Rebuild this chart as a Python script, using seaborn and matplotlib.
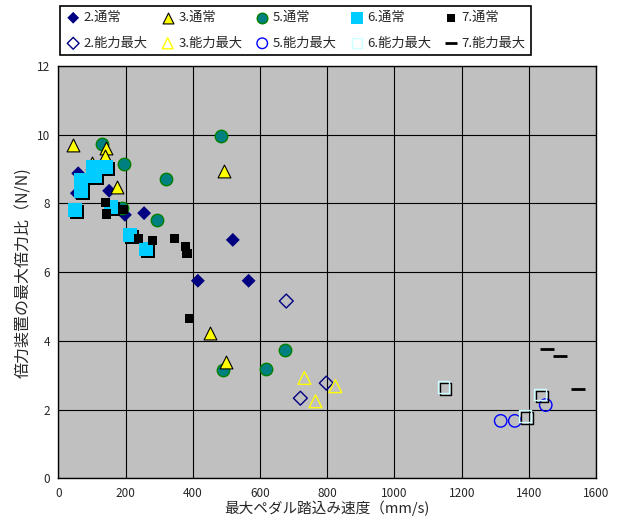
import matplotlib
matplotlib.use("Agg")
import matplotlib.pyplot as plt
import seaborn as sns
from matplotlib.transforms import offset_copy

# データ
x2 = [59, 55, 151, 198, 255, 519, 415, 566]
y2 = [8.88, 8.3, 8.37, 7.67, 7.72, 6.94, 5.75, 5.75]
x2m = [678, 720, 797]
y2m = [5.16, 2.33, 2.77]

x3 = [44, 143, 138, 99, 173, 492, 450, 500]
y3 = [9.71, 9.61, 9.37, 9.17, 8.47, 8.96, 4.23, 3.39]
x3m = [732, 765, 824]
y3m = [2.92, 2.24, 2.68]

x5 = [131, 485, 194, 321, 190, 293, 673, 491, 619]
y5 = [9.74, 9.97, 9.15, 8.70, 7.86, 7.52, 3.72, 3.14, 3.19]
x5m = [1316, 1358, 1450]
y5m = [1.67, 1.67, 2.13]

x6 = [50, 68, 68, 108, 104, 143, 156, 212, 260]
y6 = [7.8, 8.69, 8.37, 8.8, 9.07, 9.07, 7.9, 7.08, 6.67]
x6m = [1146, 1432, 1388]
y6m = [2.66, 2.44, 1.82]

x7 = [140, 144, 193, 239, 281, 346, 379, 383, 391]
y7 = [8.03, 7.69, 7.83, 6.99, 6.92, 6.99, 6.75, 6.55, 4.66]
x7m = [1455, 1491, 1546]
y7m = [3.75, 3.57, 2.60]

sns.set_style("white")
plt.rcParams['font.family'] = ['Noto Sans CJK JP', 'DejaVu Sans']

fig, ax = plt.subplots(figsize=(6.21, 5.29), dpi=100)
fig.subplots_adjust(left=0.094, right=0.96, top=0.875, bottom=0.096)
ax.set_facecolor('#C0C0C0')

# 影 (Excelの影付きマーカー)
shadow = offset_copy(ax.transData, fig=fig, x=2, y=-2, units='dots')

sns.scatterplot(x=x2, y=y2, marker='D', s=50, color='#000080', edgecolor='none', ax=ax, label='2.通常', zorder=3)
sns.scatterplot(x=x2m, y=y2m, marker='D', s=50, facecolor='none', edgecolor='#000080', linewidth=1, ax=ax, label='2.能力最大', zorder=3)
sns.scatterplot(x=x5, y=y5, marker='o', s=80, color='#008080', edgecolor='#008000', linewidth=1, ax=ax, label='5.通常', zorder=4)
sns.scatterplot(x=x3, y=y3, marker='^', s=85, color='#FFFF00', edgecolor='black', linewidth=0.8, ax=ax, label='3.通常', zorder=4)
sns.scatterplot(x=x3m, y=y3m, marker='^', s=85, facecolor='none', edgecolor='#FFFF00', linewidth=1, ax=ax, label='3.能力最大', zorder=4)
sns.scatterplot(x=x5m, y=y5m, marker='o', s=80, facecolor='none', edgecolor='#0000FF', linewidth=1, ax=ax, label='5.能力最大', zorder=4)

ax.scatter(x6, y6, marker='s', s=100, color='black', edgecolor='none', transform=shadow, zorder=5)
sns.scatterplot(x=x6, y=y6, marker='s', s=100, color='#00CCFF', edgecolor='none', ax=ax, label='6.通常', zorder=5)
ax.scatter(x6m, y6m, marker='s', s=70, facecolor='none', edgecolor='black', linewidth=1, transform=shadow, zorder=5)
sns.scatterplot(x=x6m, y=y6m, marker='s', s=70, facecolor='none', edgecolor='#CCFFFF', linewidth=1, ax=ax, label='6.能力最大', zorder=5)

sns.scatterplot(x=x7, y=y7, marker='s', s=45, color='black', edgecolor='none', ax=ax, label='7.通常', zorder=6)
sns.scatterplot(x=x7m, y=y7m, marker='_', s=90, color='black', linewidth=2, ax=ax, label='7.能力最大', zorder=6)

ax.set_xlim(0, 1600)
ax.set_ylim(0, 12)
ax.set_xticks(range(0, 1601, 200))
ax.set_yticks(range(0, 13, 2))
ax.grid(True, color='black', linewidth=0.8)
ax.set_axisbelow(True)
for sp in ax.spines.values():
    sp.set_color('black')
    sp.set_linewidth(1)
ax.tick_params(axis='both', labelsize=8.5, length=0, pad=6)

ax.set_xlabel('最大ペダル踏込み速度（mm/s)', fontsize=10.5, labelpad=1)
ax.set_ylabel('倍力装置の最大倍力比（N/N)', fontsize=11.5, labelpad=4)

# 凡例: 上段が通常, 下段が能力最大
h, l = ax.get_legend_handles_labels()
order = ['2.通常', '2.能力最大', '3.通常', '3.能力最大', '5.通常', '5.能力最大',
         '6.通常', '6.能力最大', '7.通常', '7.能力最大']
hd = dict(zip(l, h))
leg = ax.legend([hd[k] for k in order], order, ncol=5, loc='upper left',
                bbox_to_anchor=(0.003, 1.027, 0.876, 0.119), mode='expand',
                borderaxespad=0, fontsize=9.5, frameon=True, fancybox=False,
                edgecolor='black', framealpha=1, borderpad=0.4,
                handletextpad=0.2, columnspacing=0.5, labelspacing=0.95,
                handlelength=1.2, markerscale=0.85)
leg.get_frame().set_linewidth(1.2)

plt.savefig('out.png', dpi=100)
